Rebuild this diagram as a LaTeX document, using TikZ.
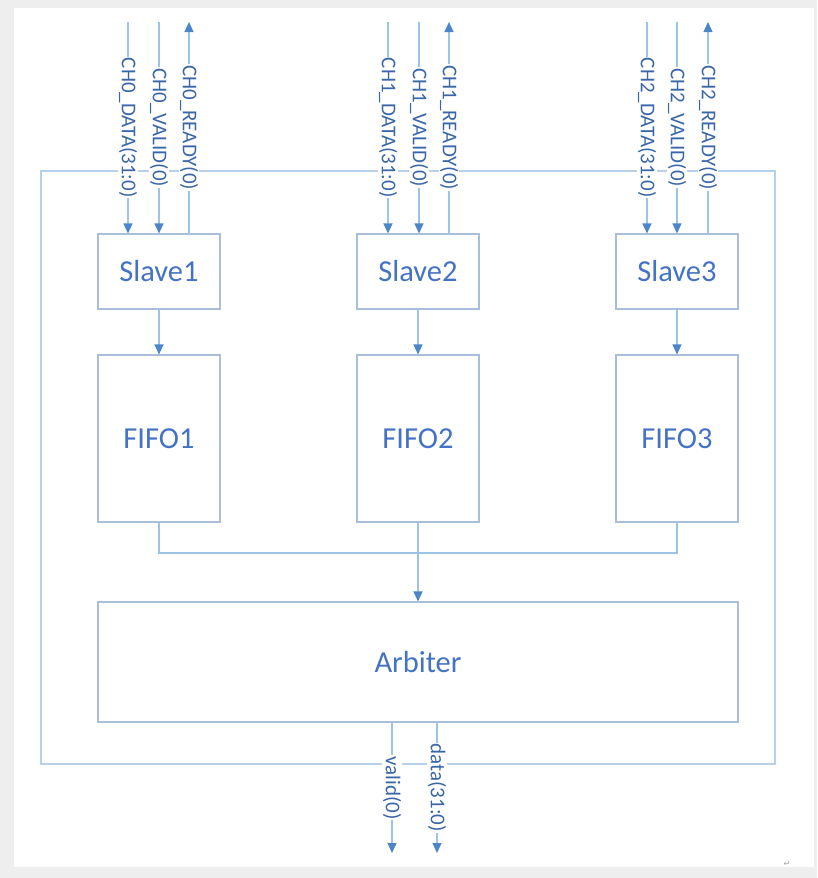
\documentclass[tikz,border=0pt]{standalone}
\usepackage{fontspec}
\setmainfont{Carlito}
\newfontfamily\symfont{DejaVu Sans}
\usetikzlibrary{arrows.meta,calc}
\definecolor{pagegray}{HTML}{EEEEEE}
\definecolor{wire}{HTML}{9DC3E6}
\definecolor{tipblue}{HTML}{4A86C8}
\definecolor{boxline}{HTML}{A8BEDA}
\definecolor{framecol}{HTML}{B8D0EA}
\definecolor{boxtext}{HTML}{4472C4}
\definecolor{lbltext}{HTML}{3A66A8}
\begin{document}
\begin{tikzpicture}[x=1pt,y=-1pt,
  box/.style={draw=boxline,line width=1.1pt,rectangle,inner sep=0pt,text=boxtext,font=\fontsize{30.5}{33}\selectfont},
  wireline/.style={draw=wire,line width=1.2pt},
  arr/.style={wireline,-{Triangle[length=10pt,width=9pt,color=tipblue]}},
  lbl/.style={fill=white,rotate=-90,inner sep=1pt,text=lbltext,font=\fontsize{21}{22}\selectfont}]
\useasboundingbox (0,0) rectangle (817,878);
\fill[pagegray] (0,0) rectangle (817,878);
\fill[white] (14,8) rectangle (814,867);
% outer frame
\draw[framecol,line width=1.2pt] (41,171) rectangle (775,764);
% boxes
\node[box,minimum width=122pt,minimum height=75pt] (s1) at (159,271.5) {Slave1};
\node[box,minimum width=122pt,minimum height=75pt] (s2) at (418,271.5) {Slave2};
\node[box,minimum width=122pt,minimum height=75pt] (s3) at (677,271.5) {Slave3};
\node[box,minimum width=122pt,minimum height=167pt] (f1) at (159,438.5) {FIFO1};
\node[box,minimum width=122pt,minimum height=167pt] (f2) at (418,438.5) {FIFO2};
\node[box,minimum width=122pt,minimum height=167pt] (f3) at (677,438.5) {FIFO3};
\node[box,minimum width=640pt,minimum height=120pt] (arb) at (418,662) {Arbiter};
% input channel coordinates
\coordinate (d0) at (128,22); \coordinate (v0) at (159,22); \coordinate (r0) at (189,22);
\coordinate (d1) at (388,22); \coordinate (v1) at (419,22); \coordinate (r1) at (449,22);
\coordinate (d2) at (647,22); \coordinate (v2) at (677,22); \coordinate (r2) at (708,22);
% channel 0
\draw[arr] (d0) -- node[lbl]{CH0\_DATA(31:0)} (d0 |- s1.north);
\draw[arr] (v0) -- node[lbl]{CH0\_VALID(0)} (v0 |- s1.north);
\draw[arr] (r0 |- s1.north) -- node[lbl]{CH0\_READY(0)} (r0);
% channel 1
\draw[arr] (d1) -- node[lbl]{CH1\_DATA(31:0)} (d1 |- s2.north);
\draw[arr] (v1) -- node[lbl]{CH1\_VALID(0)} (v1 |- s2.north);
\draw[arr] (r1 |- s2.north) -- node[lbl]{CH1\_READY(0)} (r1);
% channel 2
\draw[arr] (d2) -- node[lbl]{CH2\_DATA(31:0)} (d2 |- s3.north);
\draw[arr] (v2) -- node[lbl]{CH2\_VALID(0)} (v2 |- s3.north);
\draw[arr] (r2 |- s3.north) -- node[lbl]{CH2\_READY(0)} (r2);
% slave to fifo
\draw[arr] (s1.south) -- (f1.north);
\draw[arr] (s2.south) -- (f2.north);
\draw[arr] (s3.south) -- (f3.north);
% fifo to arbiter
\coordinate (mergey) at (0,553);
\draw[wireline] (f1.south) -- (f1.south |- mergey) -| (f3.south);
\draw[arr] (f2.south) -- (arb.north);
% outputs
\coordinate (vo) at (392,853); \coordinate (dout) at (437,853);
\draw[arr] (vo |- arb.south) -- node[lbl]{valid(0)} (vo);
\draw[arr] (dout |- arb.south) -- node[lbl]{data(31:0)} (dout);
% return mark
\node[text=gray!70,font=\symfont\fontsize{8}{8}\selectfont,inner sep=0pt] (ret) at (787,864) {↵};
\end{tikzpicture}
\end{document}
